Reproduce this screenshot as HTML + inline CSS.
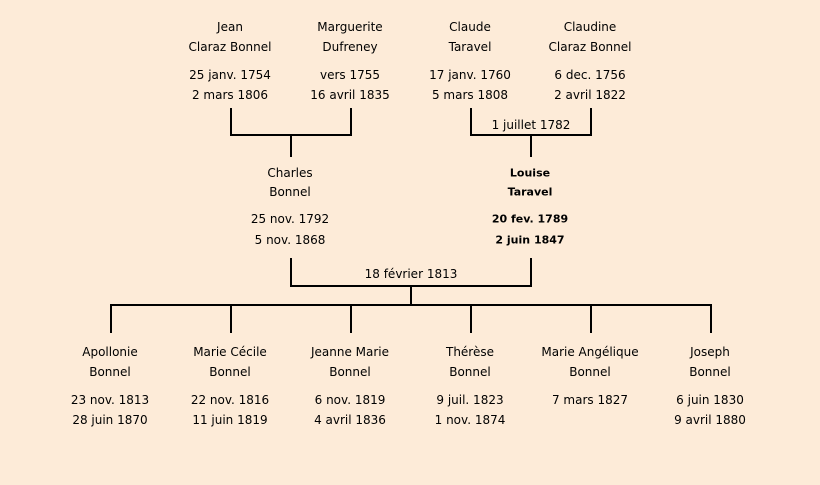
<!DOCTYPE html>
<html><head><meta charset="utf-8"><style>
html,body{margin:0;padding:0;background:#fdebd8;}
svg{display:block;}
text{font-family:"Comic Sans MS","DejaVu Sans","Liberation Sans",sans-serif;font-size:12px;fill:#000;text-anchor:middle;dominant-baseline:central;}
.b{font-weight:bold;font-size:11px;}
</style></head><body>
<svg width="820" height="485" viewBox="0 0 820 485">
<rect width="820" height="485" fill="#fdebd8"/>
<g stroke="#000" stroke-width="2" fill="none">
<path d="M231 108V135H351V108M291 135V157"/>
<path d="M471 108V135H591V108M531 135V157"/>
<path d="M291 258V286H531V258M411 286V305"/>
<path d="M111 333V305H711V333M231 305V333M351 305V333M471 305V333M591 305V333"/>
</g>
<text x="230" y="27">Jean</text><text x="230" y="47">Claraz Bonnel</text><text x="230" y="75">25 janv. 1754</text><text x="230" y="95">2 mars 1806</text>
<text x="350" y="27">Marguerite</text><text x="350" y="47">Dufreney</text><text x="350" y="75">vers 1755</text><text x="350" y="95">16 avril 1835</text>
<text x="470" y="27">Claude</text><text x="470" y="47">Taravel</text><text x="470" y="75">17 janv. 1760</text><text x="470" y="95">5 mars 1808</text>
<text x="590" y="27">Claudine</text><text x="590" y="47">Claraz Bonnel</text><text x="590" y="75">6 dec. 1756</text><text x="590" y="95">2 avril 1822</text>
<text x="531" y="125">1 juillet 1782</text>
<text x="290" y="173">Charles</text><text x="290" y="192">Bonnel</text><text x="290" y="219">25 nov. 1792</text><text x="290" y="240">5 nov. 1868</text>
<text class="b" x="530" y="173">Louise</text><text class="b" x="530" y="192">Taravel</text><text class="b" x="530" y="219">20 fev. 1789</text><text class="b" x="530" y="240">2 juin 1847</text>
<text x="411" y="274">18 février 1813</text>
<text x="110" y="352">Apollonie</text><text x="110" y="372">Bonnel</text><text x="110" y="400">23 nov. 1813</text><text x="110" y="420">28 juin 1870</text>
<text x="230" y="352">Marie Cécile</text><text x="230" y="372">Bonnel</text><text x="230" y="400">22 nov. 1816</text><text x="230" y="420">11 juin 1819</text>
<text x="350" y="352">Jeanne Marie</text><text x="350" y="372">Bonnel</text><text x="350" y="400">6 nov. 1819</text><text x="350" y="420">4 avril 1836</text>
<text x="470" y="352">Thérèse</text><text x="470" y="372">Bonnel</text><text x="470" y="400">9 juil. 1823</text><text x="470" y="420">1 nov. 1874</text>
<text x="590" y="352">Marie Angélique</text><text x="590" y="372">Bonnel</text><text x="590" y="400">7 mars 1827</text>
<text x="710" y="352">Joseph</text><text x="710" y="372">Bonnel</text><text x="710" y="400">6 juin 1830</text><text x="710" y="420">9 avril 1880</text>
</svg>
</body></html>
